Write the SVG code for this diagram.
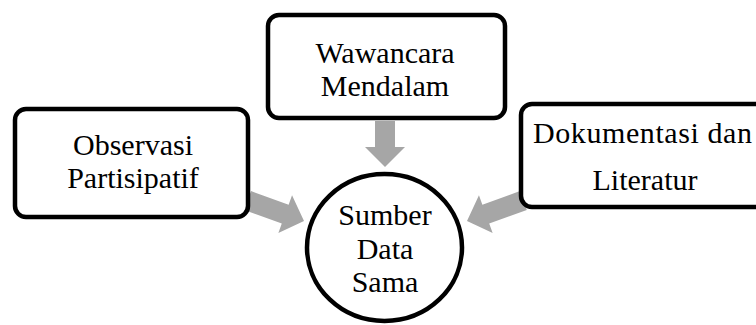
<svg xmlns="http://www.w3.org/2000/svg" width="756" height="325" viewBox="0 0 756 325">
  <style>
    .box { fill: #ffffff; stroke: #000000; stroke-width: 4.5; }
    .arrow { fill: #a6a6a6; stroke: none; }
    .lbl { font-size: 30px; fill: #000000; text-anchor: middle; }
  </style>
  <defs>
    <polygon id="arr" points="0,0 -20,-20 -20,-10 -60,-10 -60,10 -20,10 -20,20"/>
  </defs>
  <rect width="756" height="325" fill="#ffffff"/>
  <g id="connectors">
    <polygon class="arrow" points="385,167 365,147 375,147 375,121 395,121 395,147 405,147"/>
    <use href="#arr" class="arrow" transform="translate(304,221) rotate(20)" />
    <use href="#arr" class="arrow" transform="translate(467,221) rotate(160)" />
  </g>
  <g font-family="Liberation Serif, DejaVu Serif, serif">
  <g id="observasi">
    <rect class="box" x="15" y="109" width="233" height="108" rx="11"/>
    <text class="lbl" x="133" y="155">Observasi</text>
    <text class="lbl" x="133" y="188">Partisipatif</text>
  </g>
  <g id="wawancara">
    <rect class="box" x="268" y="15" width="237" height="103" rx="11"/>
    <text class="lbl" x="385" y="63">Wawancara</text>
    <text class="lbl" x="385" y="96">Mendalam</text>
  </g>
  <g id="dokumentasi">
    <rect class="box" x="521" y="104" width="250" height="103" rx="11"/>
    <text class="lbl" x="642.5" y="143" textLength="219" lengthAdjust="spacing">Dokumentasi dan</text>
    <text class="lbl" x="645" y="190">Literatur</text>
  </g>
  <g id="sumber">
    <ellipse class="box" cx="384.5" cy="247.5" rx="77.5" ry="73.5"/>
    <text class="lbl" x="385" y="225">Sumber</text>
    <text class="lbl" x="385" y="259">Data</text>
    <text class="lbl" x="385" y="292">Sama</text>
  </g>
  </g>
</svg>
